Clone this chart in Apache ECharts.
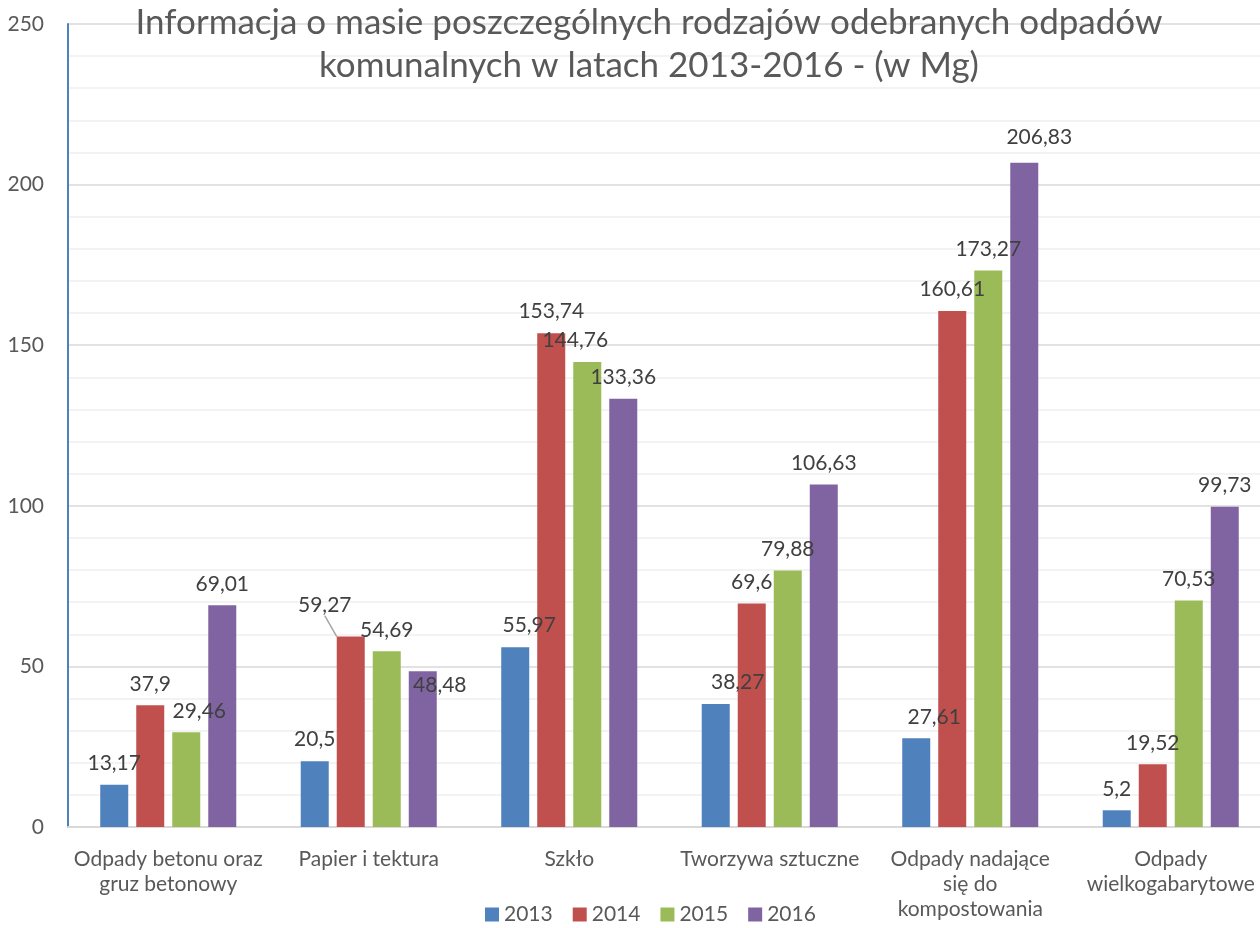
<!DOCTYPE html>
<html>
<head>
<meta charset="utf-8">
<script src="https://cdn.jsdelivr.net/npm/echarts@6/dist/echarts.min.js"></script>
<style>
  html, body { margin: 0; padding: 0; background: #fff; overflow: hidden; }
  /* wykres szerszy niż okno - ostatnia kategoria przycięta jak w oryginale */
  #chart { width: 1290px; height: 928px; }
</style>
</head>
<body>
<div id="chart"></div>
<script>
// dane
const categories = [
  "Odpady betonu oraz\ngruz betonowy",
  "Papier i tektura",
  "Szkło",
  "Tworzywa sztuczne",
  "Odpady nadające\nsię do\nkompostowania",
  "Odpady\nwielkogabarytowe"
];
const years = ["2013", "2014", "2015", "2016"];
const v2013 = [13.17, 20.5, 55.97, 38.27, 27.61, 5.2];
const v2014 = [37.9, 59.27, 153.74, 69.6, 160.61, 19.52];
const v2015 = [29.46, 54.69, 144.76, 79.88, 173.27, 70.53];
const v2016 = [69.01, 48.48, 133.36, 106.63, 206.83, 99.73];

const colors = ["#4f81bd", "#c0504d", "#9bbb59", "#8064a2"];
const font = "Lato, 'Open Sans', sans-serif";

// przesunięcia etykiet jak w oryginale (seria-indeks) -> [dx, dy]
const nudge = {
  "0-2": [14, 0], "0-3": [22, 0], "0-4": [18, 0],
  "1-1": [-26, -10],
  "2-0": [13, 0], "2-2": [-12, 0],
  "3-1": [17, 35], "3-4": [15, -4]
};
// etykieta z linią odniesienia
const withLine = "1-1";

function fmt(v) {
  return String(v).replace(".", ",");
}

function makeSeries(name, values, si) {
  return {
    name: name,
    type: "bar",
    barWidth: 28,
    barGap: "28.6%",
    itemStyle: { color: colors[si] },
    label: {
      show: true,
      position: "top",
      distance: 11,
      fontFamily: font,
      fontSize: 21,
      color: "#404040",
      formatter: (p) => fmt(p.value)
    },
    labelLine: {
      show: false,
      lineStyle: { color: "#a6a6a6", width: 1.5 }
    },
    labelLayout: (p) => {
      const n = nudge[si + "-" + p.dataIndex];
      if (!n) return {};
      return { dx: n[0], dy: n[1] };
    },
    data: values.map((v, i) =>
      si + "-" + i === withLine ? { value: v, labelLine: { show: true } } : v
    )
  };
}

const chart = echarts.init(document.getElementById("chart"));
chart.setOption({
  animation: false,
  color: colors,
  title: {
    text: "Informacja o masie poszczególnych rodzajów odebranych odpadów\nkomunalnych w latach 2013-2016 - (w Mg)",
    left: 644,
    textAlign: "center",
    top: -4,
    textStyle: {
      fontFamily: font,
      fontSize: 35,
      fontWeight: "normal",
      color: "#595959",
      lineHeight: 43
    }
  },
  legend: {
    data: years,
    left: 480,
    top: 899,
    itemWidth: 14,
    itemHeight: 14,
    itemGap: 20,
    icon: "rect",
    textStyle: { fontFamily: font, fontSize: 21, color: "#595959" }
  },
  grid: { left: 68, width: 1203, top: 24, height: 803 },
  xAxis: {
    type: "category",
    data: categories,
    axisLine: { lineStyle: { color: "#d9d9d9", width: 2 } },
    axisTick: { show: false },
    axisLabel: {
      interval: 0,
      margin: 20,
      fontFamily: font,
      fontSize: 21,
      color: "#595959",
      lineHeight: 25
    }
  },
  yAxis: {
    type: "value",
    min: 0,
    max: 250,
    interval: 50,
    axisLine: { show: true, lineStyle: { color: "#4f81bd", width: 2 } },
    axisTick: { show: false },
    axisLabel: {
      margin: 24,
      fontFamily: font,
      fontSize: 21,
      color: "#595959"
    },
    splitLine: { lineStyle: { color: "#d9d9d9", width: 1.5 } },
    minorTick: { show: false, splitNumber: 5 },
    minorSplitLine: { show: true, lineStyle: { color: "#f0f0f0", width: 1.5 } }
  },
  series: [
    makeSeries(years[0], v2013, 0),
    makeSeries(years[1], v2014, 1),
    makeSeries(years[2], v2015, 2),
    makeSeries(years[3], v2016, 3)
  ]
});
</script>
</body>
</html>
